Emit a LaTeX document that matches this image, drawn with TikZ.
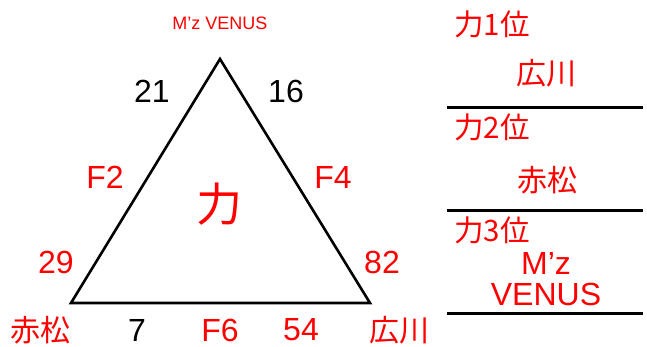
\documentclass[tikz,border=0pt]{standalone}
\usepackage{fontspec}
\setmainfont{Liberation Sans}
\newfontfamily\jpfont{Noto Sans CJK JP}
\usetikzlibrary{positioning}
\definecolor{lblred}{RGB}{255,0,0}

\begin{document}
\begin{tikzpicture}[x=1pt, y=-1pt,
        numlabel/.style={inner sep=0pt, font=\fontsize{32}{32}\selectfont},
        redlabel/.style={numlabel, text=lblred},
        player/.style={inner sep=0pt, text=lblred, font=\jpfont\fontsize{30}{30}\selectfont},
        rank/.style={inner sep=0pt, anchor=west, text=lblred, font=\jpfont\fontsize{29.5}{29.5}\selectfont},
        sepline/.style={line width=3pt}
    ]
        \useasboundingbox (0,0) rectangle (647,347);

        % Triangle
        \coordinate (apex) at (220,59);
        \coordinate (lcorner) at (71,303);
        \coordinate (rcorner) at (370,303);
        \draw[line width=2.6pt, line join=miter] (apex) -- (lcorner) -- (rcorner) -- cycle;
        \node[inner sep=0pt, text=lblred, font=\jpfont\fontsize{46}{46}\selectfont] (power) at (219,204) {力};

        % Top corner
        \node[inner sep=0pt, text=lblred, font=\fontsize{18}{18}\selectfont] (venus) at (220,23) {M’z VENUS};
        \node[numlabel] (nl) at (152,91) {21};
        \node[numlabel] (nr) at (286,91) {16};

        % Sides
        \node[redlabel] (ftwo) at (105,177) {F2};
        \node[redlabel] (ffour) at (333,177) {F4};
        \node[redlabel] (lscore) at (56,262) {29};
        \node[redlabel] (rscore) at (382,262) {82};

        % Bottom row
        \node[player] (akamatsu) at (40,330) {赤松};
        \node[numlabel] (nb) at (137,330) {7};
        \node[redlabel] (fsix) at (220,330) {F6};
        \node[redlabel] (bscore) at (301,330) {54};
        \node[player] (hirokawa) at (399,330) {広川};

        % Ranking on right
        \node[rank] (first) at (454,24) {力1位};
        \node[player] (firstname) at (546,73) {広川};
        \node[rank] (second) at (454,127) {力2位};
        \node[player] (secondname) at (547,180) {赤松};
        \node[rank] (third) at (454,230) {力3位};
        \node[redlabel, align=center] (thirdname) at (546,279) {M’z\\[-1pt]VENUS};

        \draw[sepline] (447,108) -- (643,108);
        \draw[sepline] (447,211) -- (643,211);
        \draw[sepline] (447,313) -- (643,313);
    \end{tikzpicture}
\end{document}
